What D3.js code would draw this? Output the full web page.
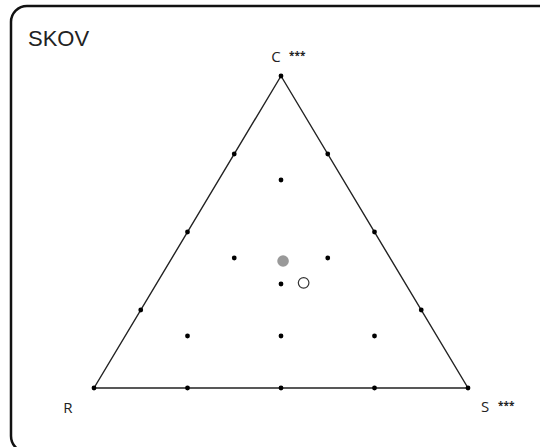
<!DOCTYPE html>
<html>
<head>
<meta charset="utf-8">
<script src="https://cdn.jsdelivr.net/npm/d3@7"></script>
<style>
  html, body { margin: 0; padding: 0; background: #fff; }
  svg { display: block; }
</style>
</head>
<body>
<div id="chart"></div>
<script>
// CSR ternary diagram for the SKOV site.
// Each point is [C, S, R] as fractions summing to 1.
const title = "SKOV";
const vertexLabels = ["C", "S", "R"];
const vertexSignif = ["***", "***", ""];

// Reference grid of strategy positions on the triangle
const gridC = [1, 0.75, 0.5, 0.25, 0, 0, 0, 0, 0, 0.25, 0.5, 0.75, 2/3, 5/12, 5/12, 1/3, 1/6, 1/6, 1/6];
const gridS = [0, 0.25, 0.5, 0.75, 1, 0.75, 0.5, 0.25, 0, 0, 0, 0, 1/6, 5/12, 1/6, 1/3, 2/3, 5/12, 1/6];

// Group means (C, S) — R is the remainder
const meanNames = ["filled", "open"];
const meanC = [0.407, 0.337];
const meanS = [0.302, 0.392];

const W = 540, H = 447;
const svg = d3.select("#chart").append("svg").attr("width", W).attr("height", H);

// Frame
svg.append("rect")
  .attr("x", 11).attr("y", 6).attr("width", 560).attr("height", 446)
  .attr("rx", 16).attr("ry", 16)
  .attr("fill", "#fff").attr("stroke", "#111").attr("stroke-width", 2.5);

svg.append("text")
  .attr("x", 28).attr("y", 46)
  .attr("font-family", "Liberation Sans, Arial, sans-serif")
  .attr("font-size", 22).attr("fill", "#222")
  .text(title);

// Ternary projection built from linear scales
const xScale = d3.scaleLinear().domain([0, 1]).range([94, 468]);
const yScale = d3.scaleLinear().domain([0, 1]).range([388, 76]);
const proj = (c, s) => [xScale(s + c / 2), yScale(c)];

const verts = [proj(1, 0), proj(0, 1), proj(0, 0)];
svg.append("path")
  .attr("d", d3.line()(verts) + "Z")
  .attr("fill", "none").attr("stroke", "#222").attr("stroke-width", 1.4);

// Grid dots
const grid = gridC.map((c, i) => proj(c, gridS[i]));
svg.selectAll("circle.grid").data(grid).join("circle")
  .attr("class", "grid")
  .attr("cx", d => d[0]).attr("cy", d => d[1]).attr("r", 2.4)
  .attr("fill", "#000");

// Vertex labels
const labelFont = "Open Sans, Liberation Sans, sans-serif";
const labelPos = [[276, 62], [485, 412], [68, 413]];
vertexLabels.forEach((lab, i) => {
  svg.append("text")
    .attr("x", labelPos[i][0]).attr("y", labelPos[i][1])
    .attr("text-anchor", "middle")
    .attr("font-family", labelFont).attr("font-size", 15).attr("fill", "#222")
    .text(lab);
  if (vertexSignif[i]) {
    svg.append("text")
      .attr("x", labelPos[i][0] + 13).attr("y", labelPos[i][1] - 3)
      .attr("font-family", labelFont).attr("font-size", 10).attr("font-weight", "bold")
      .attr("fill", "#222")
      .text(vertexSignif[i]);
  }
});

// Group means
const means = meanC.map((c, i) => ({ name: meanNames[i], p: proj(c, meanS[i]) }));
svg.selectAll("circle.mean").data(means).join("circle")
  .attr("class", "mean")
  .attr("cx", d => d.p[0]).attr("cy", d => d.p[1])
  .attr("r", d => d.name === "filled" ? 5.8 : 5.3)
  .attr("fill", d => d.name === "filled" ? "#999" : "#fff")
  .attr("stroke", d => d.name === "filled" ? "none" : "#333")
  .attr("stroke-width", 1.2);
</script>
</body>
</html>
